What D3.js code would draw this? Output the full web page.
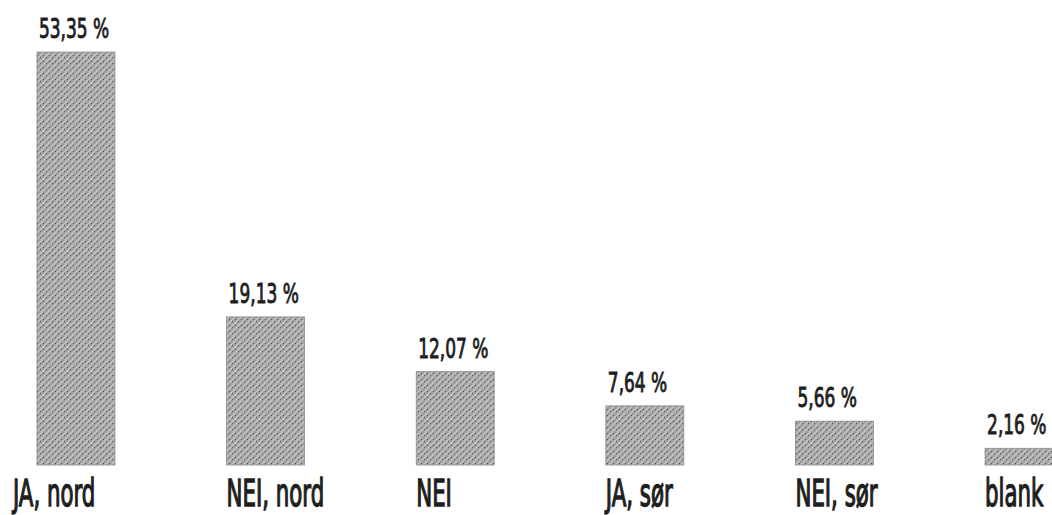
<!DOCTYPE html>
<html>
<head>
<meta charset="utf-8">
<script src="https://cdn.jsdelivr.net/npm/d3@7"></script>
<style>
  body { margin: 0; background: #fff; }
  text { font-family: "DejaVu Sans Condensed", "DejaVu Sans", sans-serif; fill: #1e1e1e; stroke: #1e1e1e; stroke-width: 0.9; }
</style>
</head>
<body>
<div id="chart"></div>
<script>
// Data
const categories = ["JA, nord", "NEI, nord", "NEI", "JA, sør", "NEI, sør", "blank"];
const values = [53.35, 19.13, 12.07, 7.64, 5.66, 2.16];
const valueLabels = ["53,35 %", "19,13 %", "12,07 %", "7,64 %", "5,66 %", "2,16 %"];

const data = categories.map((c, i) => ({ cat: c, value: values[i], label: valueLabels[i] }));

// Dimensions
const width = 1052;
const height = 515;
const barBottom = 465;
const barTop = 52;

const svg = d3.select("#chart").append("svg")
  .attr("width", width)
  .attr("height", height);

// Texture for the bars
const defs = svg.append("defs");
const pat = defs.append("pattern")
  .attr("id", "tex")
  .attr("patternUnits", "userSpaceOnUse")
  .attr("width", 6)
  .attr("height", 6);
pat.append("rect").attr("width", 6).attr("height", 6).attr("fill", "#a0a0a0");
pat.append("path")
  .attr("d", "M0,6 L6,0 M-1,1 L1,-1 M5,7 L7,5")
  .attr("stroke", "#cdcdcd")
  .attr("stroke-width", 1.2);
pat.append("rect").attr("x", 1).attr("y", 1).attr("width", 1).attr("height", 1).attr("fill", "#5a5a5a");
pat.append("rect").attr("x", 4).attr("y", 3).attr("width", 1).attr("height", 1).attr("fill", "#5a5a5a");

// Scales
const x = d3.scaleBand()
  .domain(categories)
  .range([37, 1063])
  .paddingInner(0.589)
  .paddingOuter(0);

const y = d3.scaleLinear()
  .domain([0, d3.max(values)])
  .range([barBottom, barTop]);

// Bars
svg.selectAll("rect.bar")
  .data(data)
  .enter()
  .append("rect")
    .attr("class", "bar")
    .attr("x", d => x(d.cat))
    .attr("y", d => y(d.value))
    .attr("width", x.bandwidth())
    .attr("height", d => y(0) - y(d.value))
    .attr("fill", "url(#tex)")
    .attr("stroke", "#8a8a8a")
    .attr("stroke-width", 0.8);

// Value labels (condensed via horizontal scale)
const sxVal = 0.7;
svg.selectAll("text.val")
  .data(data)
  .enter()
  .append("text")
    .attr("class", "val")
    .attr("transform", d => `translate(${x(d.cat) + 2}, ${y(d.value) - 14}) scale(${sxVal},1)`)
    .style("font-size", "27px")
    .text(d => d.label);

// Category labels
const sxCat = 0.64;
svg.selectAll("text.cat")
  .data(data)
  .enter()
  .append("text")
    .attr("class", "cat")
    .attr("transform", (d, i) => `translate(${x(d.cat) - (i === 0 ? 24 : 0)}, 506) scale(${sxCat},1)`)
    .style("font-size", "37px")
    .style("stroke-width", 1.3)
    .text(d => d.cat);
</script>
</body>
</html>
